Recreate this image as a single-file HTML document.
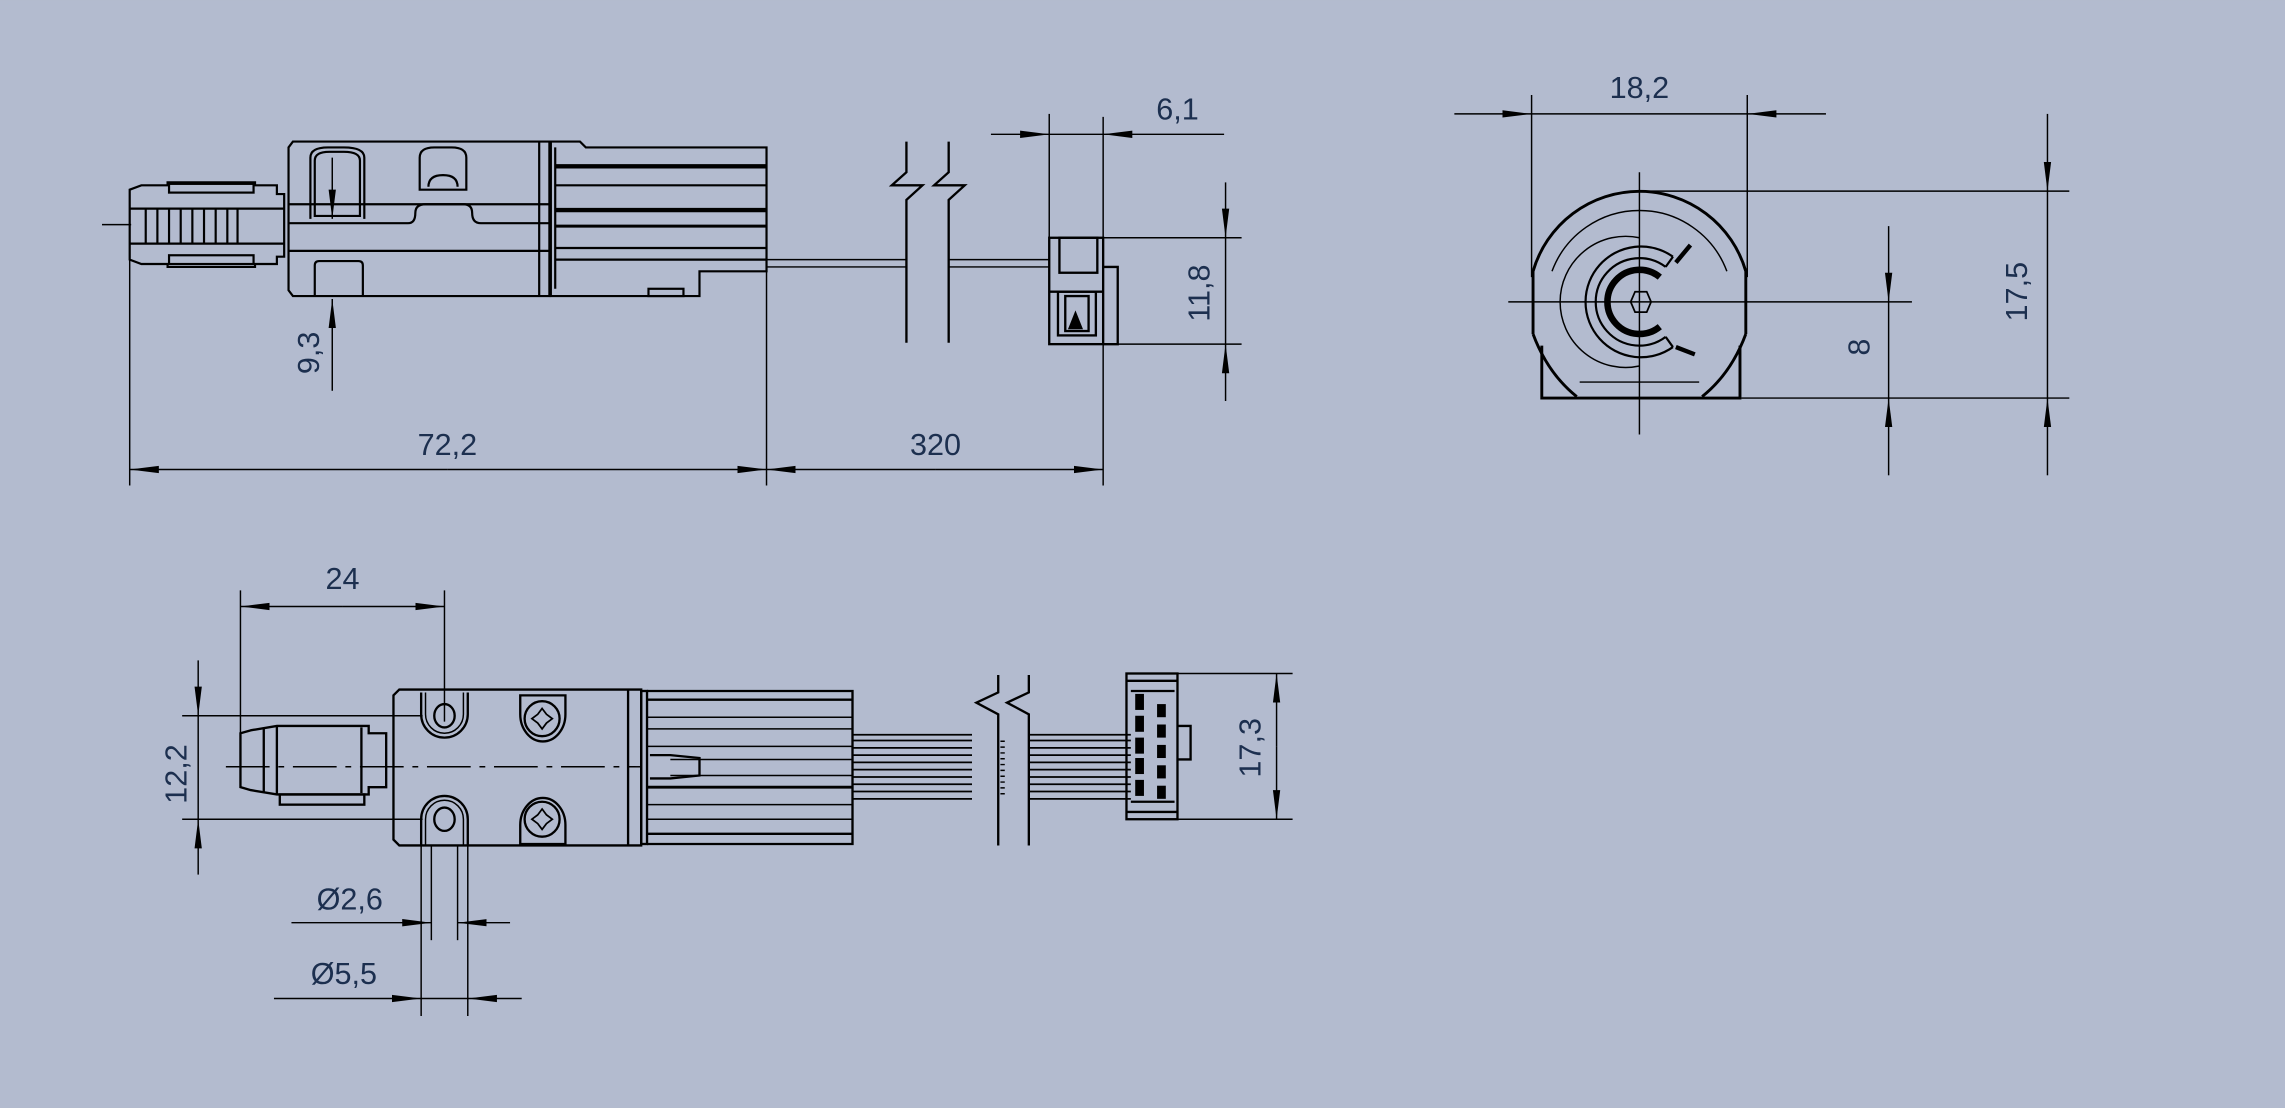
<!DOCTYPE html>
<html><head><meta charset="utf-8"><style>
html,body{margin:0;padding:0;background:#b3bbcf;}
svg{display:block}
text{font-family:"Liberation Sans","DejaVu Sans",sans-serif;font-size:21px;fill:#1c2f4f}
</style></head><body>
<svg width="2285" height="1108" viewBox="0 0 1568 760" xmlns="http://www.w3.org/2000/svg">
<defs>
<marker id="a" viewBox="0 0 20 6" refX="20" refY="3" markerWidth="20" markerHeight="6" markerUnits="userSpaceOnUse" orient="auto"><path d="M0,0.5 L20,3 L0,5.5 Z" fill="#000"/></marker>
</defs>
<rect width="1568" height="760" fill="#b3bbcf"/>
<g stroke="#000" fill="none" stroke-width="1">
<!-- ===== TOP VIEW ===== -->
<line x1="89" y1="155" x2="89" y2="333"/>
<line x1="526" y1="185" x2="526" y2="333"/>
<line x1="757" y1="80" x2="757" y2="333"/>
<line x1="720" y1="78" x2="720" y2="163"/>
<line x1="307" y1="322" x2="89" y2="322" marker-end="url(#a)"/>
<line x1="307" y1="322" x2="526" y2="322" marker-end="url(#a)"/>
<line x1="642" y1="322" x2="526" y2="322" marker-end="url(#a)"/>
<line x1="642" y1="322" x2="757" y2="322" marker-end="url(#a)"/>
<line x1="680" y1="92" x2="720" y2="92" marker-end="url(#a)"/>
<line x1="840" y1="92" x2="757" y2="92" marker-end="url(#a)"/>
<line x1="720" y1="92" x2="757" y2="92"/>
<line x1="757" y1="163" x2="852" y2="163"/>
<line x1="767" y1="236" x2="852" y2="236"/>
<line x1="841" y1="125" x2="841" y2="163" marker-end="url(#a)"/>
<line x1="841" y1="275" x2="841" y2="236" marker-end="url(#a)"/>
<line x1="841" y1="163" x2="841" y2="236"/>
<line x1="228" y1="108" x2="228" y2="150" marker-end="url(#a)"/>
<line x1="228" y1="268" x2="228" y2="205" marker-end="url(#a)"/>
<line x1="70" y1="154" x2="90" y2="154"/>
<g stroke-width="1.5">
<path d="M89,130 L97,127 L115,127 L115,125 L175,125 L175,127 L190,127 L190,133 L195,133 L195,176 L190,176 L190,181 L175,181 L175,183 L115,183 L115,181 L97,181 L89,178 Z"/>
<rect x="116" y="126" width="58" height="6"/>
<rect x="116" y="175" width="58" height="6"/>
<line x1="89" y1="143" x2="195" y2="143"/><line x1="89" y1="167" x2="195" y2="167"/>
<line x1="100" y1="143" x2="100" y2="167"/><line x1="108" y1="143" x2="108" y2="167"/><line x1="116" y1="143" x2="116" y2="167"/><line x1="124" y1="143" x2="124" y2="167"/><line x1="132" y1="143" x2="132" y2="167"/><line x1="140" y1="143" x2="140" y2="167"/><line x1="148" y1="143" x2="148" y2="167"/><line x1="156" y1="143" x2="156" y2="167"/><line x1="163" y1="143" x2="163" y2="167"/>
<path d="M201,97 L377,97 L377,203 L201,203 L198,199 L198,101 Z"/>
<line x1="198" y1="140" x2="377" y2="140"/>
<line x1="198" y1="172" x2="377" y2="172"/>
<path d="M198,153 L280,153 Q285,153 285,146 Q285,140 292,140 L318,140 Q324,140 324,146 Q324,153 330,153 L377,153"/>
<path d="M213,150 L213,108 Q213,101 225,101 L236,101 Q250,101 250,108 L250,150"/>
<path d="M216,148 L216,110 Q216,104 226,104 L236,104 Q247,104 247,110 L247,148 Z"/>
<path d="M288,130 L288,108 Q288,101 298,101 L310,101 Q320,101 320,108 L320,130 Z"/>
<path d="M294,128 Q294,120 304,120 Q314,120 314,128"/>
<path d="M216,203 L216,182 Q216,179 219,179 L246,179 Q249,179 249,182 L249,203"/>
<line x1="370" y1="97" x2="370" y2="203"/>
<path d="M378,97 L398,97 L402,101 L526,101 L526,186 L480,186 L480,203 L378,203 Z"/>
<line x1="381" y1="101" x2="381" y2="198"/>
<line x1="381" y1="114" x2="526" y2="114" stroke-width="3"/>
<line x1="381" y1="127" x2="526" y2="127"/>
<line x1="381" y1="144" x2="526" y2="144" stroke-width="3"/>
<line x1="381" y1="155" x2="526" y2="155" stroke-width="2"/>
<line x1="381" y1="170" x2="526" y2="170"/>
<line x1="381" y1="178" x2="526" y2="178"/>
<rect x="445" y="198" width="24" height="5"/>
</g>
<line x1="526" y1="178" x2="622" y2="178"/><line x1="526" y1="183" x2="622" y2="183"/>
<line x1="651" y1="178" x2="720" y2="178"/><line x1="651" y1="183" x2="720" y2="183"/>
<path d="M622,97 L622,118 L612,127 L633,127 L622,137 L622,235" stroke-width="1.6"/>
<path d="M651,97 L651,118 L641,127 L662,127 L651,137 L651,235" stroke-width="1.6"/>
<g stroke-width="1.6">
<rect x="720" y="163" width="37" height="73"/>
<path d="M757,183 L767,183 L767,236 L757,236"/>
<rect x="727" y="163" width="26" height="24"/>
<line x1="720" y1="200" x2="757" y2="200"/>
<rect x="726" y="200" width="26" height="30"/>
<rect x="731" y="203" width="16" height="24"/>
<path d="M734,225 L738,215 L742,225 Z" fill="#000"/>
</g>
<!-- ===== RIGHT VIEW ===== -->
<line x1="1051" y1="65" x2="1051" y2="190"/>
<line x1="1199" y1="65" x2="1199" y2="190"/>
<line x1="998" y1="78" x2="1051" y2="78" marker-end="url(#a)"/>
<line x1="1253" y1="78" x2="1199" y2="78" marker-end="url(#a)"/>
<line x1="1051" y1="78" x2="1199" y2="78"/>
<line x1="1125" y1="131" x2="1420" y2="131"/>
<line x1="1195" y1="273" x2="1420" y2="273"/>
<line x1="1035" y1="207" x2="1312" y2="207"/>
<line x1="1125" y1="118" x2="1125" y2="298"/>
<line x1="1405" y1="78" x2="1405" y2="131" marker-end="url(#a)"/>
<line x1="1405" y1="326" x2="1405" y2="273" marker-end="url(#a)"/>
<line x1="1405" y1="131" x2="1405" y2="273"/>
<line x1="1296" y1="155" x2="1296" y2="207" marker-end="url(#a)"/>
<line x1="1296" y1="326" x2="1296" y2="273" marker-end="url(#a)"/>
<line x1="1296" y1="207" x2="1296" y2="273"/>
<g stroke-width="2">
<path d="M1052,229 L1052,186 A76,76 0 0 1 1198,186 L1198,229"/>
<path d="M1065,186 A64,64 0 0 1 1185,186" stroke-width="1"/>
<path d="M1052,229 Q1062,256 1082,272 M1198,229 Q1188,256 1168,272"/>
<path d="M1058,237 L1058,273 L1194,273 L1194,237"/>
<line x1="1084" y1="262" x2="1166" y2="262" stroke-width="1"/>
<path d="M1125,163 A45,45 0 1 0 1125,251" stroke-width="1"/>
<path d="M1148,176 A38,38 0 1 0 1148,238" stroke-width="1.5"/>
<path d="M1143,183 A30,30 0 1 0 1143,231" stroke-width="1.5"/>
<path d="M1139,190 A22,22 0 1 0 1139,224" stroke-width="4.5"/>
<line x1="1148" y1="176" x2="1143" y2="183" stroke-width="1.5"/>
<line x1="1150" y1="180" x2="1160" y2="168" stroke-width="3"/>
<line x1="1148" y1="238" x2="1143" y2="231" stroke-width="1.5"/>
<line x1="1150" y1="238" x2="1163" y2="243" stroke-width="3"/>
<polygon points="1119,207 1122,200 1130,200 1133,207 1130,214 1122,214" stroke-width="1.2"/>
</g>
<!-- ===== BOTTOM VIEW ===== -->
<line x1="165" y1="405" x2="165" y2="520"/>
<line x1="305" y1="405" x2="305" y2="495"/>
<line x1="235" y1="416" x2="165" y2="416" marker-end="url(#a)"/>
<line x1="235" y1="416" x2="305" y2="416" marker-end="url(#a)"/>
<line x1="125" y1="491" x2="290" y2="491"/>
<line x1="125" y1="562" x2="290" y2="562"/>
<line x1="136" y1="453" x2="136" y2="491" marker-end="url(#a)"/>
<line x1="136" y1="600" x2="136" y2="562" marker-end="url(#a)"/>
<line x1="136" y1="491" x2="136" y2="562"/>
<line x1="808" y1="462" x2="887" y2="462"/>
<line x1="808" y1="562" x2="887" y2="562"/>
<line x1="876" y1="512" x2="876" y2="462" marker-end="url(#a)"/>
<line x1="876" y1="512" x2="876" y2="562" marker-end="url(#a)"/>
<line x1="289" y1="580" x2="289" y2="697"/>
<line x1="321" y1="580" x2="321" y2="697"/>
<line x1="296" y1="580" x2="296" y2="645"/>
<line x1="314" y1="580" x2="314" y2="645"/>
<line x1="200" y1="633" x2="296" y2="633" marker-end="url(#a)"/>
<line x1="350" y1="633" x2="314" y2="633" marker-end="url(#a)"/>
<line x1="188" y1="685" x2="289" y2="685" marker-end="url(#a)"/>
<line x1="358" y1="685" x2="321" y2="685" marker-end="url(#a)"/>
<line x1="289" y1="685" x2="321" y2="685"/>
<line x1="155" y1="526" x2="440" y2="526" stroke-dasharray="30,6,4,6"/>
<g stroke-width="1.6">
<path d="M172,501 L190,498 L253,498 L253,503 L265,503 L265,540 L253,540 L253,545 L190,545 L172,542 L165,540 L165,503 Z"/>
<line x1="190" y1="498" x2="190" y2="545"/><line x1="181" y1="499" x2="181" y2="544"/><line x1="248" y1="499" x2="248" y2="544"/>
<rect x="192" y="545" width="58" height="7"/>
<path d="M274,473 L440,473 L440,580 L274,580 L270,576 L270,477 Z"/>
<path d="M289,475 L289,490 A16,16 0 0 0 321,490 L321,475"/>
<path d="M292,475 L292,490 A13,13 0 0 0 318,490 L318,475" stroke-width="1"/>
<ellipse cx="305" cy="491" rx="7" ry="8"/>
<path d="M289,580 L289,562 A16,16 0 0 1 321,562 L321,580"/>
<path d="M292,580 L292,562 A13,13 0 0 1 318,562 L318,580" stroke-width="1"/>
<ellipse cx="305" cy="562" rx="7" ry="8"/>
<path d="M357,477 L388,477 L388,490 A15,18 0 0 1 357,490 Z"/>
<circle cx="372" cy="493" r="12"/>
<path d="M357,566 A15,18 0 0 1 388,566 L388,579 L357,579 Z"/>
<circle cx="372" cy="562" r="12"/>
<path d="M372,486 L375,490 L379,493 L375,496 L372,500 L369,496 L365,493 L369,490 Z" stroke-width="1.2"/>
<path d="M372,555 L375,559 L379,562 L375,565 L372,569 L369,565 L365,562 L369,559 Z" stroke-width="1.2"/>
<line x1="431" y1="473" x2="431" y2="580"/>
<rect x="440" y="474" width="4" height="105"/>
<path d="M444,474 L585,474 L585,579 L444,579"/>
<line x1="444" y1="480" x2="585" y2="480"/>
<line x1="444" y1="492" x2="585" y2="492" stroke-width="1"/>
<line x1="444" y1="500" x2="585" y2="500" stroke-width="1"/>
<line x1="444" y1="512" x2="585" y2="512" stroke-width="1"/>
<line x1="460" y1="521" x2="585" y2="521" stroke-width="1"/>
<line x1="460" y1="532" x2="585" y2="532" stroke-width="1"/>
<line x1="444" y1="540" x2="585" y2="540" stroke-width="2"/>
<line x1="444" y1="552" x2="585" y2="552" stroke-width="1"/>
<line x1="444" y1="562" x2="585" y2="562" stroke-width="1"/>
<line x1="444" y1="572" x2="585" y2="572"/>
<path d="M446,518 L460,518 L480,520 L480,532 L460,534 L446,534"/>
</g>
<g stroke-width="1.2">
<line x1="585" y1="504" x2="667" y2="504"/><line x1="585" y1="508" x2="667" y2="508"/><line x1="585" y1="513" x2="667" y2="513"/><line x1="585" y1="518" x2="667" y2="518"/><line x1="585" y1="523" x2="667" y2="523"/><line x1="585" y1="528" x2="667" y2="528"/><line x1="585" y1="533" x2="667" y2="533"/><line x1="585" y1="538" x2="667" y2="538"/><line x1="585" y1="543" x2="667" y2="543"/><line x1="585" y1="548" x2="667" y2="548"/>
<line x1="706" y1="504" x2="776" y2="504"/><line x1="706" y1="508" x2="776" y2="508"/><line x1="706" y1="513" x2="776" y2="513"/><line x1="706" y1="518" x2="776" y2="518"/><line x1="706" y1="523" x2="776" y2="523"/><line x1="706" y1="528" x2="776" y2="528"/><line x1="706" y1="533" x2="776" y2="533"/><line x1="706" y1="538" x2="776" y2="538"/><line x1="706" y1="543" x2="776" y2="543"/><line x1="706" y1="548" x2="776" y2="548"/>
<line x1="688" y1="508" x2="688" y2="546" stroke-dasharray="1,3" stroke-width="3"/>
</g>
<path d="M685,463 L685,475 L670,482 L685,490 L685,580" stroke-width="1.6"/>
<path d="M706,463 L706,475 L691,482 L706,490 L706,580" stroke-width="1.6"/>
<g stroke-width="1.6">
<rect x="773" y="462" width="35" height="100"/>
<line x1="773" y1="467" x2="808" y2="467"/><line x1="773" y1="557" x2="808" y2="557"/>
<line x1="776" y1="474" x2="806" y2="474"/><line x1="776" y1="550" x2="806" y2="550"/>
<path d="M808,498 L817,498 L817,521 L808,521"/>
</g>
<g fill="#000" stroke="none">
<rect x="779" y="476" width="6" height="11"/><rect x="779" y="491" width="6" height="11"/><rect x="779" y="506" width="6" height="11"/><rect x="779" y="520" width="6" height="11"/><rect x="779" y="535" width="6" height="11"/>
<rect x="794" y="483" width="6" height="9"/><rect x="794" y="497" width="6" height="9"/><rect x="794" y="511" width="6" height="9"/><rect x="794" y="525" width="6" height="9"/><rect x="794" y="539" width="6" height="9"/>
</g>
</g>
<text x="307" y="312" text-anchor="middle">72,2</text>
<text x="642" y="312" text-anchor="middle">320</text>
<text x="808" y="82" text-anchor="middle">6,1</text>
<text transform="translate(830,201) rotate(-90)" text-anchor="middle">11,8</text>
<text transform="translate(219,242) rotate(-90)" text-anchor="middle">9,3</text>
<text x="1125" y="67" text-anchor="middle">18,2</text>
<text transform="translate(1391,200) rotate(-90)" text-anchor="middle">17,5</text>
<text transform="translate(1283,238) rotate(-90)" text-anchor="middle">8</text>
<text x="235" y="404" text-anchor="middle">24</text>
<text transform="translate(128,531) rotate(-90)" text-anchor="middle">12,2</text>
<text transform="translate(865,513) rotate(-90)" text-anchor="middle">17,3</text>
<text x="240" y="624" text-anchor="middle">Ø2,6</text>
<text x="236" y="675" text-anchor="middle">Ø5,5</text>
</svg>
</body></html>
